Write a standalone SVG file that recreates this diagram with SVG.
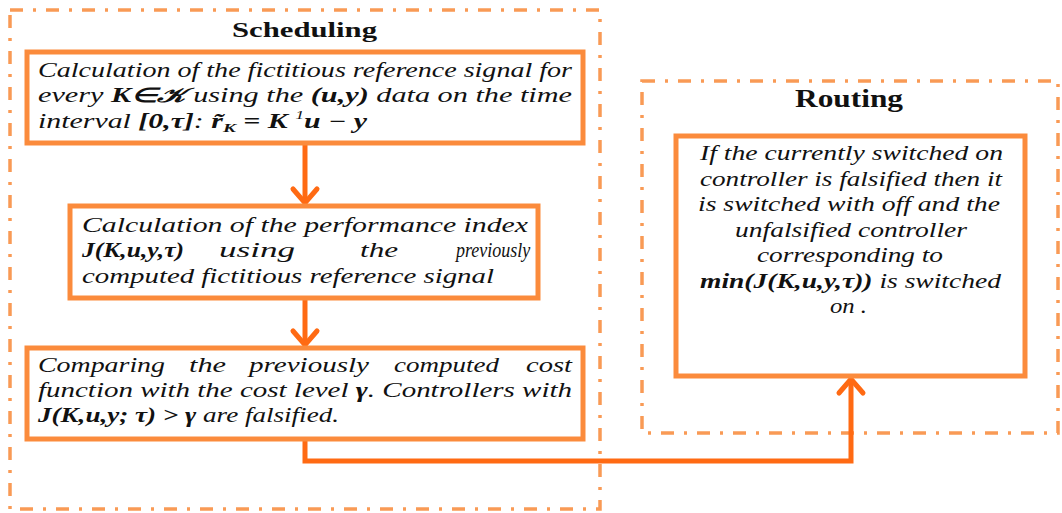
<svg xmlns="http://www.w3.org/2000/svg" width="1062" height="513" viewBox="0 0 1062 513">
<style>
.grp{fill:none;stroke:#F99A55;stroke-width:3.5;stroke-dasharray:13 10 3 10}
.box{fill:#fff;stroke:#FB8B3C;stroke-width:5}
.con{fill:none;stroke:#FF6A13;stroke-width:5;stroke-linejoin:miter}
.t{font-family:"Liberation Serif","Times New Roman",serif;font-size:20px;font-style:italic;fill:#111}
.b{font-weight:bold}
.ttl{font-family:"Liberation Serif","Times New Roman",serif;font-weight:bold;fill:#111}
</style>
<defs>
<marker id="arr" markerUnits="userSpaceOnUse" markerWidth="40" markerHeight="40" refX="0" refY="0" viewBox="-20 -20 40 40" orient="auto">
<path d="M-14,-12 L0,0 L-14,12" fill="none" stroke="#FF6A13" stroke-width="5" stroke-linecap="round" stroke-linejoin="miter"/>
</marker>
</defs>
<rect width="1062" height="513" fill="#fff"/>
<g id="scheduling">
<rect class="grp" x="10" y="10" width="590" height="499"/>
<text class="ttl" x="232" y="37" font-size="22" textLength="145" lengthAdjust="spacingAndGlyphs">Scheduling</text>
</g>
<g id="routing">
<rect class="grp" x="642" y="81" width="416" height="352"/>
<text class="ttl" x="795" y="107" font-size="25" textLength="108" lengthAdjust="spacingAndGlyphs">Routing</text>
</g>
<g id="connectors">
<path class="con" d="M305,145 V203" marker-end="url(#arr)"/>
<path class="con" d="M305,300 V345" marker-end="url(#arr)"/>
<path class="con" d="M305,441 V461 H851 V379" marker-end="url(#arr)"/>
</g>
<g id="box1">
<rect class="box" x="27" y="52" width="556" height="91"/>
<text class="t" x="38" y="77" textLength="534" lengthAdjust="spacingAndGlyphs">Calculation of the fictitious reference signal for</text>
<text class="t" x="38" y="102" textLength="534" lengthAdjust="spacingAndGlyphs">every <tspan class="b">K∈𝒦</tspan> using the  <tspan class="b">(u,y)</tspan> data on the time</text>
<text class="t" x="38" y="128" textLength="329" lengthAdjust="spacingAndGlyphs">interval <tspan class="b">[0,τ]</tspan>:  <tspan class="b">r̃</tspan><tspan class="b" font-size="13" dy="4">K</tspan><tspan class="b" dy="-4"> = K  </tspan><tspan font-size="12" dy="-9">1</tspan><tspan class="b" dy="9">u − y</tspan></text>
</g>
<g id="box2">
<rect class="box" x="70" y="206" width="468" height="92"/>
<text class="t" x="82" y="232" textLength="446" lengthAdjust="spacingAndGlyphs">Calculation of the performance index</text>
<text class="t b" x="82" y="257" textLength="102" lengthAdjust="spacingAndGlyphs">J(K,u,y,τ)</text>
<text class="t" x="219" y="257" textLength="76" lengthAdjust="spacingAndGlyphs">using</text>
<text class="t" x="360" y="257" textLength="38" lengthAdjust="spacingAndGlyphs">the</text>
<text class="t" transform="translate(456,257) scale(0.9,1)">previously</text>
<text class="t" x="82" y="283" textLength="412" lengthAdjust="spacingAndGlyphs">computed fictitious reference signal</text>
</g>
<g id="box3">
<rect class="box" x="27" y="348" width="556" height="91"/>
<text class="t" x="38" y="372" textLength="127" lengthAdjust="spacingAndGlyphs">Comparing</text>
<text class="t" x="189" y="372" textLength="37" lengthAdjust="spacingAndGlyphs">the</text>
<text class="t" x="249" y="372" textLength="120" lengthAdjust="spacingAndGlyphs">previously</text>
<text class="t" x="394" y="372" textLength="105" lengthAdjust="spacingAndGlyphs">computed</text>
<text class="t" x="526" y="372" textLength="46" lengthAdjust="spacingAndGlyphs">cost</text>
<text class="t" x="38" y="397" textLength="534" lengthAdjust="spacingAndGlyphs">function with the cost level <tspan class="b">γ</tspan>. Controllers with</text>
<text class="t" x="38" y="422" textLength="301" lengthAdjust="spacingAndGlyphs"><tspan class="b">J(K,u,y; τ) &gt; γ</tspan> are falsified.</text>
</g>
<g id="routing-box">
<rect class="box" x="676" y="136" width="349" height="240"/>
<text class="t" x="700" y="160" textLength="303" lengthAdjust="spacingAndGlyphs">If the currently switched on</text>
<text class="t" x="700" y="186" textLength="302" lengthAdjust="spacingAndGlyphs">controller is falsified then it</text>
<text class="t" x="698" y="211" textLength="302" lengthAdjust="spacingAndGlyphs">is switched with off  and the</text>
<text class="t" x="735" y="237" textLength="232" lengthAdjust="spacingAndGlyphs">unfalsified controller</text>
<text class="t" x="757" y="262" textLength="186" lengthAdjust="spacingAndGlyphs">corresponding to</text>
<text class="t" x="700" y="288" textLength="301" lengthAdjust="spacingAndGlyphs"><tspan class="b">min(J(K,u,y,τ))</tspan> is switched</text>
<text class="t" x="830" y="313" textLength="37" lengthAdjust="spacingAndGlyphs">on .</text>
</g>
</svg>
